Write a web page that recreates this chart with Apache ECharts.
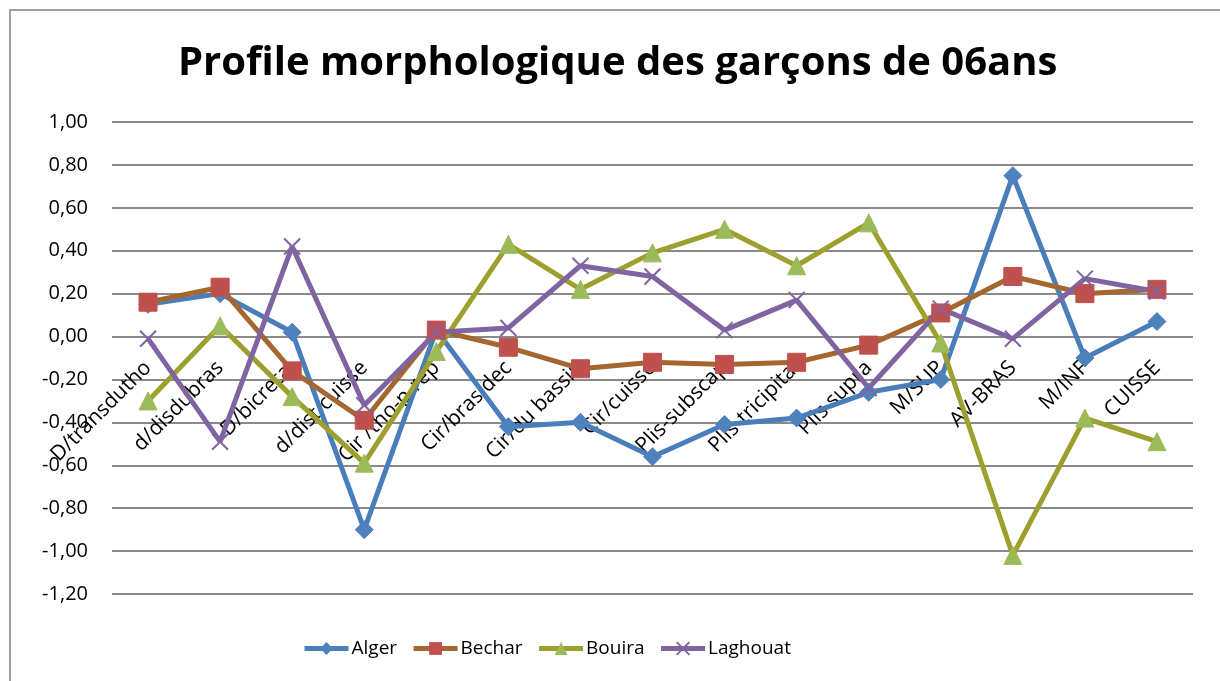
<!DOCTYPE html>
<html>
<head>
  <meta charset="UTF-8">
  <title>Profile morphologique</title>
  <script src="https://cdn.jsdelivr.net/npm/echarts@6/dist/echarts.min.js"></script>
  <style>
    body { margin: 0; background: #fff; }
    #frame { position: absolute; left: 9px; top: 9px; width: 1300px; height: 800px; border: 2px solid #a0a0a0; box-sizing: border-box; }
    #main { position: absolute; left: 0; top: 0; width: 1220px; height: 681px; }
  </style>
</head>
<body>
<div id="frame"></div>
<div id="main"></div>
<script type="text/javascript">
  var categories = ['D/transdutho', 'd/disdubras', 'D/bicretal', 'd/dist cuisse', 'Cir /tho-p-rep',
    'Cir/bras dec', 'Cir/du bassin', 'Cir/cuisse', 'Plis-subscap', 'Plis-tricipital',
    'Plis supra', 'M/SUP', 'AV-BRAS', 'M/INF', 'CUISSE'];
  var alger = [0.15, 0.20, 0.02, -0.90, 0.03, -0.42, -0.40, -0.56, -0.41, -0.38, -0.26, -0.20, 0.75, -0.10, 0.07];
  var bechar = [0.16, 0.23, -0.16, -0.39, 0.03, -0.05, -0.15, -0.12, -0.13, -0.12, -0.04, 0.11, 0.28, 0.20, 0.22];
  var bouira = [-0.30, 0.05, -0.28, -0.59, -0.07, 0.43, 0.22, 0.39, 0.50, 0.33, 0.53, -0.03, -1.02, -0.38, -0.49];
  var laghouat = [-0.01, -0.49, 0.42, -0.32, 0.02, 0.04, 0.33, 0.28, 0.03, 0.17, -0.24, 0.13, -0.01, 0.27, 0.21];

  var font = 'Open Sans';
  var yMin = -1.2, yMax = 1.0;
  var plotTop = 122, plotBottom = 87, chartH = 681;
  // the category axis sits on the zero line, as in the original
  var plotH = chartH - plotTop - plotBottom;
  var zeroOffset = -plotH * (0 - yMin) / (yMax - yMin);

  function makeSeries(name, data, lineColor, markColor, symbol, size) {
    return {
      name: name,
      type: 'line',
      data: data,
      symbol: symbol,
      symbolSize: size,
      showAllSymbol: true,
      lineStyle: { color: lineColor, width: 5 },
      itemStyle: { color: markColor, borderColor: markColor },
      emphasis: { disabled: true },
      animation: false
    };
  }

  var myChart = echarts.init(document.getElementById('main'));

  var option = {
    backgroundColor: 'transparent',
    title: {
      text: 'Profile morphologique des garçons de 06ans',
      left: 173,
      top: 39,
      textStyle: { fontFamily: font, fontWeight: 'bold', fontSize: 40, color: '#000' }
    },
    legend: {
      top: 634,
      left: 297,
      itemWidth: 44,
      itemHeight: 16,
      itemGap: 14,
      lineStyle: { width: 5 },
      textStyle: { fontFamily: font, fontSize: 19, color: '#000', padding: [0, 0, 0, -2] },
      data: ['Alger', 'Bechar', 'Bouira', 'Laghouat']
    },
    grid: { left: 112, right: 27, top: plotTop, bottom: plotBottom, outerBoundsMode: 'none', containLabel: false },
    xAxis: {
      type: 'category',
      data: categories,
      boundaryGap: true,
      offset: zeroOffset,
      axisLine: { onZero: false, show: false },
      axisTick: { show: false },
      axisLabel: { rotate: 45, fontFamily: font, fontSize: 21, color: '#000', margin: 28, interval: 0 }
    },
    yAxis: {
      type: 'value',
      min: yMin,
      max: yMax,
      interval: 0.2,
      axisLine: { show: false },
      axisTick: { show: false },
      axisLabel: {
        fontFamily: font, fontSize: 20, color: '#000', margin: 24,
        formatter: function (v) { return v.toFixed(2).replace('.', ','); }
      },
      splitLine: { lineStyle: { color: '#8a8a8a', width: 2 } }
    },
    series: [
      makeSeries('Alger', alger, '#4a7ebb', '#4f81bd', 'diamond', 18),
      makeSeries('Bechar', bechar, '#a5662f', '#c0504d', 'rect', 18),
      makeSeries('Bouira', bouira, '#9ea02e', '#9bbb59', 'triangle', 18),
      makeSeries('Laghouat', laghouat, '#8064a2', '#8064a2', 'path://M0,0 L10,10 M10,0 L0,10', 16)
    ]
  };

  option.series[3].itemStyle = { color: 'none', borderColor: '#8064a2', borderWidth: 2 };
  myChart.setOption(option);
</script>
</body>
</html>
